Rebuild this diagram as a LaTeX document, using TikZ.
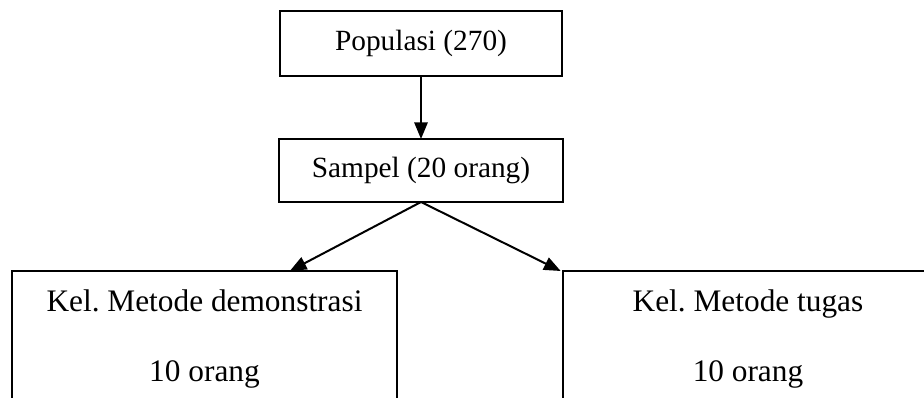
\documentclass[tikz,border=0pt]{standalone}
\usepackage{fontspec}
\setmainfont{Liberation Serif}
\usetikzlibrary{positioning, arrows.meta}

\tikzset{
    kotak/.style={draw, line width=1.5pt, outer sep=0pt, align=center,
        font=\fontsize{22}{52.5}\selectfont},
    kotakbawah/.style={kotak, font=\fontsize{23.5}{52.5}\selectfont},
    panah/.style={line width=1.5pt, -{Triangle[length=12.5pt, width=10pt]}}
}

\begin{document}
\frenchspacing
\begin{tikzpicture}[x=0.75pt, y=0.75pt]
            \clip (0,0) rectangle (924,-398);
            \node[kotak, minimum width=212pt, minimum height=48.75pt] (pop) at (421,-43.5) {Populasi (270)};
            \node[kotak, minimum width=213pt, minimum height=47.25pt, below = 47.25pt of pop] (sampel) {Sampel (20 orang)};
            \node[kotakbawah, minimum width=289pt, minimum height=102pt] (demo) at (204.5,-339) {Kel. Metode demonstrasi\\10 orang};
            \node[kotakbawah, minimum width=277pt, minimum height=102pt] (tugas) at (748,-339) {Kel. Metode tugas\\10 orang};
            \draw[panah] (pop) -- (sampel);
            \draw[panah] (sampel.south) -- ([xshift=64pt]demo.north);
            \draw[panah] (sampel.south) -- ([xshift=-2pt]tugas.north west);
        \end{tikzpicture}
\end{document}
